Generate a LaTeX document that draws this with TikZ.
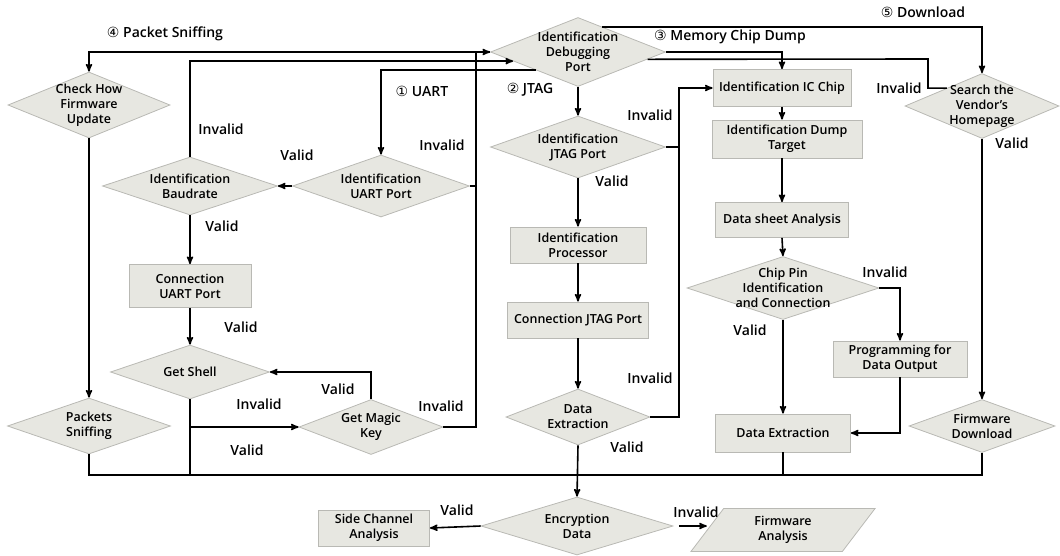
\documentclass[tikz,border=0pt]{standalone}
\usepackage{fontspec}
\setmainfont{Open Sans}[BoldFont={Open Sans Semibold}]
\newfontfamily\circfont{DejaVu Sans}
\usepackage{tikz}
\usetikzlibrary{shapes.geometric, arrows}
\definecolor{boxfill}{RGB}{231,231,225}
\definecolor{boxline}{RGB}{185,185,180}
\newcommand{\cnum}[1]{{\circfont\mdseries #1}}

\begin{document}
\begin{tikzpicture}[
  x=1pt, y=-1pt,
  >=stealth',
  line width=1.6pt,
  every node/.style={font=\fontsize{12.5}{15}\selectfont\bfseries, align=center},
  box/.style={rectangle, draw=boxline, fill=boxfill, line width=0.8pt, inner sep=0pt},
  decision/.style={diamond, draw=boxline, fill=boxfill, line width=0.8pt, inner sep=0pt},
  lbl/.style={font=\fontsize{14}{16}\selectfont\bfseries},
]
\useasboundingbox (0,0) rectangle (1060,555);

% decisions
\node[decision, minimum width=175pt, minimum height=69pt, label={center:Identification\\Debugging\\Port}] (DBG) at (578,52) {};
\node[decision, minimum width=162pt, minimum height=66pt, label={center:Check How\\Firmware\\Update}] (CHK) at (89,105) {};
\node[decision, minimum width=175pt, minimum height=58pt, label={center:Identification\\Baudrate}] (BAUD) at (190,186) {};
\node[decision, minimum width=177pt, minimum height=62pt, label={center:Identification\\UART Port}] (UART) at (381,186) {};
\node[decision, minimum width=175pt, minimum height=62pt, label={center:Identification\\JTAG Port}] (JTAG) at (578,147) {};
\node[decision, minimum width=144pt, minimum height=56pt, label={center:Data\\Extraction}] (JEXT) at (578,417) {};
\node[decision, minimum width=192pt, minimum height=63pt, label={center:Chip Pin\\Identification\\and Connection}] (PIN) at (783,288) {};
\node[decision, minimum width=154pt, minimum height=65pt, label={center:Search the\\Vendor’s\\Homepage}] (VEND) at (982,106) {};
\node[decision, minimum width=146pt, minimum height=53pt, label={center:Firmware\\Download}] (FWDL) at (982,426) {};
\node[decision, minimum width=159pt, minimum height=54pt, label={center:Get Shell}] (SHELL) at (190,372) {};
\node[decision, minimum width=144pt, minimum height=55pt, label={center:Get Magic\\Key}] (MAGIC) at (371,427) {};
\node[decision, minimum width=163pt, minimum height=56pt, label={center:Packets\\Sniffing}] (SNIFF) at (89,426) {};
\node[decision, minimum width=192pt, minimum height=58pt, label={center:Encryption\\Data}] (ENC) at (577,526) {};

% processes
\node[box, minimum width=136pt, minimum height=36pt] (PROC) at (578,245) {Identification\\Processor};
\node[box, minimum width=141pt, minimum height=36pt] (CJTAG) at (578,320) {Connection JTAG Port};
\node[box, minimum width=138pt, minimum height=37pt] (IC) at (782,88) {Identification IC Chip};
\node[box, minimum width=150pt, minimum height=38pt] (DUMP) at (787,139) {Identification Dump\\Target};
\node[box, minimum width=133pt, minimum height=35pt] (DSA) at (782,220) {Data sheet Analysis};
\node[box, minimum width=134pt, minimum height=36pt] (PROG) at (900,359) {Programming for\\Data Output};
\node[box, minimum width=135pt, minimum height=38pt] (DEXT) at (783,433) {Data Extraction};
\node[box, minimum width=122pt, minimum height=43pt] (CUART) at (190,286) {Connection\\UART Port};
\node[box, minimum width=111pt, minimum height=36pt] (SIDE) at (374,528) {Side Channel\\Analysis};
\node[box, trapezium, trapezium left angle=60, trapezium right angle=120, trapezium stretches=true,
      minimum width=185pt, minimum height=43pt] (FWA) at (783,530) {Firmware\\Analysis};

\coordinate (UINV) at (476,52);
\coordinate (JINV) at (679,88);
\coordinate (VINV) at (928,59);
\coordinate (BUS) at (578,475);

% connectors
\draw[->] (DBG.west) -| (CHK.north);
\draw[->] (MAGIC.east) -| (UINV) -- (DBG.west);
\draw (UART.east) -- (UART.east -| UINV);
\draw[->] (BAUD.north) |- (DBG.188);
\draw[->] (DBG.203) -| (UART.north);
\draw[->] (DBG.south) -- (JTAG.north);
\draw[->] (DBG.46) -| (VEND.north);
\draw[->] (DBG.east) -| (IC.north);
\draw (VEND.153) -| (VINV) -- (DBG.354);

\draw[->] (UART.west) -- (BAUD.east);
\draw[->] (BAUD.south) -- (CUART.north);
\draw[->] (CUART.south) -- (SHELL.north);
\draw[->] (MAGIC.north) |- (SHELL.east);
\draw (SHELL.south) |- (BUS);
\draw[->] (SHELL.south |- MAGIC.west) -- (MAGIC.west);
\draw[->] (CHK.south) -- (SNIFF.north);
\draw (SNIFF.south) |- (BUS);

\draw[->] (JTAG.south) -- (PROC.north);
\draw[->] (PROC.south) -- (CJTAG.north);
\draw[->] (CJTAG.south) -- (JEXT.north);
\draw[->] (JTAG.east) -| (JINV) -- (IC.west);
\draw (JEXT.east) -| (JINV);
\draw[->] (JEXT.south) -- (ENC.north);

\draw[->] (IC.south) -- (IC.south |- DUMP.north);
\draw[->] (IC.south |- DUMP.south) -- (DSA.north);
\draw[->] (DSA.south) -- (PIN.north);
\draw[->] (PIN.east) -| (PROG.north);
\draw[->] (PIN.south) -- (DEXT.north);
\draw[->] (PROG.south) |- (DEXT.east);
\draw[->] (VEND.south) -- (FWDL.north);
\draw (FWDL.south) |- (BUS);
\draw (DEXT.south) |- (BUS);

\draw[->] (ENC.west) -- (SIDE.east);
\draw[->, shorten <=6pt] (ENC.east) -- (ENC.east -| FWA.west);

% path titles
\node[lbl] (tSNIFF) at (165,34) {\cnum{④} Packet Sniffing};
\node[lbl] (tUART) at (422,91) {\cnum{①} UART};
\node[lbl] (tJTAG) at (530,90) {\cnum{②} JTAG};
\node[lbl] (tDUMP) at (730,37) {\cnum{③} Memory Chip Dump};
\node[lbl] (tDOWN) at (923,12) {\cnum{⑤} Download};

% branch labels
\node[lbl] (iBAUD) at (221,129) {Invalid};
\node[lbl] (vUART) at (297,155) {Valid};
\node[lbl] (iUART) at (442,145) {Invalid};
\node[lbl] (iJTAG) at (650,115) {Invalid};
\node[lbl] (vJTAG) at (612,181) {Valid};
\node[lbl] (vBAUD) at (222,226) {Valid};
\node[lbl] (vCUART) at (241,327) {Valid};
\node[lbl] (vMAGIC) at (338,389) {Valid};
\node[lbl] (iSHELL) at (259,404) {Invalid};
\node[lbl] (vSHELL) at (247,450) {Valid};
\node[lbl] (iMAGIC) at (441,406) {Invalid};
\node[lbl] (iJEXT) at (650,378) {Invalid};
\node[lbl] (vJEXT) at (627,447) {Valid};
\node[lbl] (iPIN) at (885,272) {Invalid};
\node[lbl] (vPIN) at (750,330) {Valid};
\node[lbl] (iVEND) at (899,88) {Invalid};
\node[lbl] (vVEND) at (1012,143) {Valid};
\node[lbl] (vENC) at (457,510) {Valid};
\node[lbl] (iENC) at (696,512) {Invalid};
\end{tikzpicture}
\end{document}
